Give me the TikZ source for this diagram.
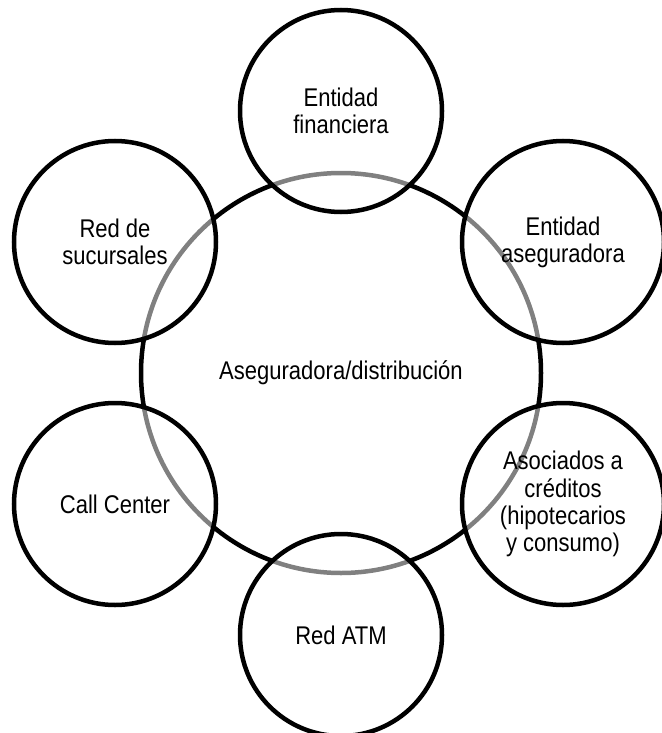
\documentclass[tikz,border=0pt]{standalone}
\usepackage{fontspec}
\setmainfont[FakeStretch=0.86]{Liberation Sans}

\begin{document}
\begin{tikzpicture}[x=0.5pt, y=-0.5pt,
    every node/.style={align=center, font=\fontsize{12.8}{13.6}\selectfont},
    hub/.style={circle, draw, line width=2.25pt, inner sep=0pt, minimum size=200pt},
    channel/.style={circle, draw, line width=2.25pt, inner sep=0pt, minimum size=101pt,
      fill=white, fill opacity=0.5, draw opacity=1, text opacity=1}]
    \useasboundingbox (0,0) rectangle (661,733);

    % Centre
    \node[hub] (hub) at (341,373) {Aseguradora/distribución};

    % Channels
    \node[channel] (fin)  at (341,111) {Entidad\\financiera};
    \node[channel] (aseg) at (563,242) {Entidad\\aseguradora};
    \node[channel] (cred) at (563,504) {Asociados a\\créditos\\(hipotecarios\\y consumo)};
    \node[channel] (atm)  at (341,635) {Red ATM};
    \node[channel] (call) at (115,504) {Call Center};
    \node[channel] (suc)  at (115,242) {Red de\\sucursales};
  \end{tikzpicture}
\end{document}
